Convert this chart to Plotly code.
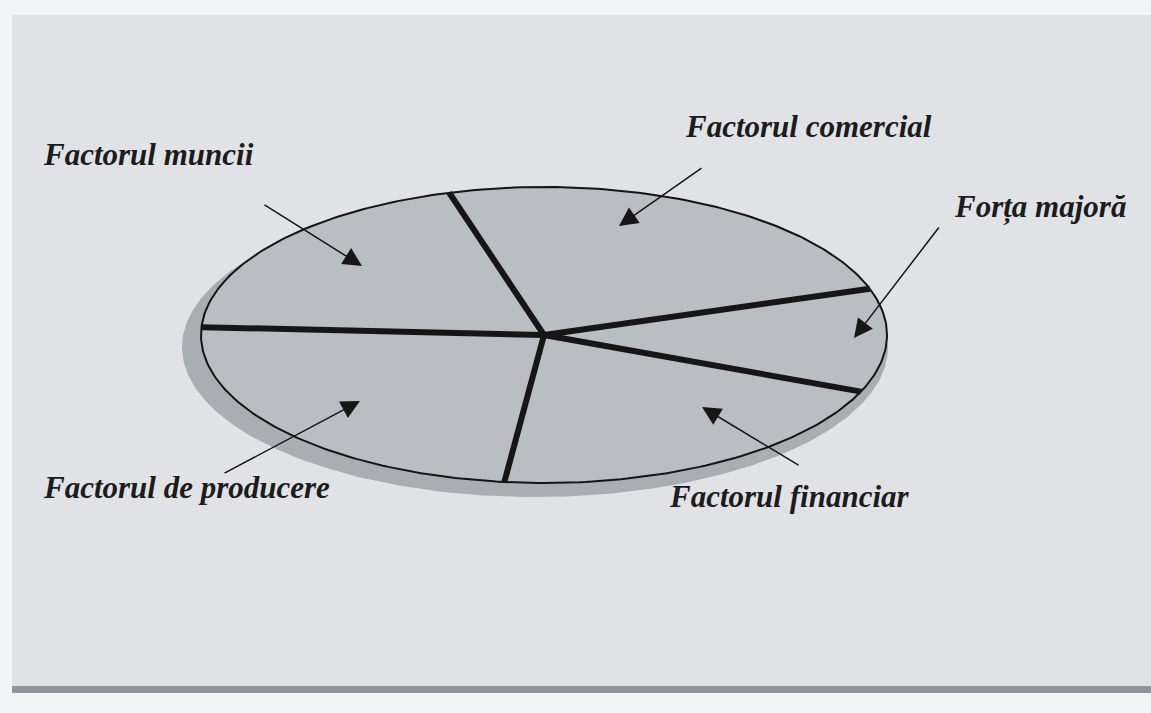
import numpy as np
import plotly.graph_objects as go

labels = ['Factorul comercial', 'Factorul muncii', 'Factorul de producere',
          'Factorul financiar', 'Forța majoră']
shares = [24.4, 19.7, 24.0, 20.6, 11.3]
start_deg = 18.2  # first boundary, counterclockwise from 3 o'clock

# label text position and arrow (tail -> head), in page pixels
label_pos = {
    'Factorul muncii': (148, 154),
    'Factorul comercial': (808, 126),
    'Forța majoră': (1040, 207),
    'Factorul de producere': (186, 487),
    'Factorul financiar': (789, 496),
}
arrows = {
    'Factorul muncii': ((263, 204), (362, 266)),
    'Factorul comercial': ((703, 167), (619, 226)),
    'Forța majoră': ((940, 226), (854, 338)),
    'Factorul de producere': ((223, 474), (360, 401)),
    'Factorul financiar': ((800, 466), (702, 407)),
}

W, H = 1151, 713
cx, cy = 544, 335
rx, ry = 343, 148

page = '#e0e2e6'
pie_col = '#babdc2'
shadow_col = '#aaadb2'


def ell(t_deg, x0=cx, y0=cy, a=rx, b=ry):
    t = np.radians(t_deg)
    return x0 + a * np.cos(t), y0 - b * np.sin(t)


fig = go.Figure()

# shadow
sx, sy = ell(np.linspace(0, 360, 361), cx - 9, cy + 12, rx + 10, ry + 2)
fig.add_trace(go.Scatter(x=sx, y=sy, fill='toself', fillcolor=shadow_col,
                         line=dict(width=0), mode='lines', hoverinfo='skip'))

# slices
bounds = start_deg + np.concatenate([[0], np.cumsum(shares)]) * 3.6
for lab, t0, t1 in zip(labels, bounds[:-1], bounds[1:]):
    px, py = ell(np.linspace(t0, t1, 100))
    fig.add_trace(go.Scatter(x=np.concatenate([[cx], px, [cx]]),
                             y=np.concatenate([[cy], py, [cy]]),
                             fill='toself', fillcolor=pie_col, line=dict(width=0),
                             mode='lines', name=lab, hoverinfo='name'))

# outline
ox, oy = ell(np.linspace(0, 360, 361))
fig.add_trace(go.Scatter(x=ox, y=oy, mode='lines', line=dict(color='#151515', width=2),
                         hoverinfo='skip'))

# dividing lines
for t in bounds[:-1]:
    ex, ey = ell(t)
    fig.add_trace(go.Scatter(x=[cx, ex], y=[cy, ey], mode='lines',
                             line=dict(color='#161616', width=6), hoverinfo='skip'))

for lab in labels:
    (tx, ty), (hx, hy) = arrows[lab]
    fig.add_annotation(x=hx, y=hy, ax=tx, ay=ty, xref='x', yref='y', axref='x', ayref='y',
                       showarrow=True, arrowhead=2, arrowsize=2.5, arrowwidth=1.5,
                       arrowcolor='#161616', text='')
    lx, ly = label_pos[lab]
    fig.add_annotation(x=lx, y=ly, xref='x', yref='y', text=lab, showarrow=False,
                       font=dict(family='Liberation Serif', size=31, color='#1c1c1c',
                                 style='italic', weight='bold'))

fig.update_layout(
    width=W, height=H, margin=dict(l=0, r=0, t=0, b=0),
    paper_bgcolor='#f2f3f5', plot_bgcolor='#f2f3f5', showlegend=False,
    xaxis=dict(range=[0, W], visible=False, fixedrange=True),
    yaxis=dict(range=[H, 0], visible=False, fixedrange=True),
    shapes=[
        dict(type='rect', xref='x', yref='y', x0=12, y0=15, x1=W, y1=686,
             fillcolor=page, line=dict(width=0), layer='below'),
        dict(type='rect', xref='x', yref='y', x0=12, y0=686, x1=W, y1=693,
             fillcolor='#929499', line=dict(width=0), layer='below'),
    ],
)

fig.write_html("out.html", config={'displayModeBar': False},
               post_script="document.body.style.margin='0';document.body.style.overflow='hidden';")
